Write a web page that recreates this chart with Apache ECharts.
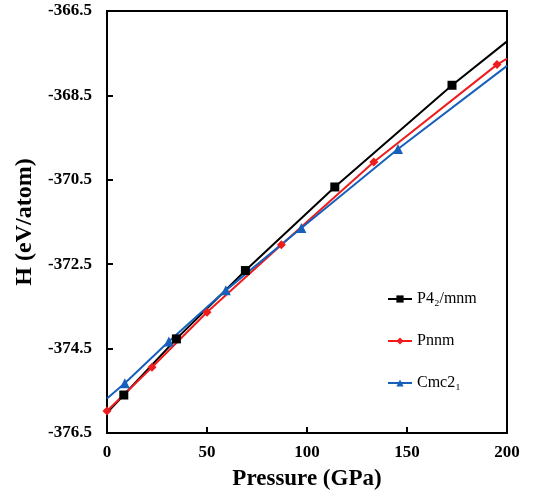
<!DOCTYPE html>
<html>
<head>
<meta charset="utf-8">
<script src="https://cdn.jsdelivr.net/npm/echarts@6/dist/echarts.min.js"></script>
<style>
  html, body { margin: 0; padding: 0; background: #fff; }
  #chart { width: 538px; height: 490px; }
</style>
</head>
<body>
<div id="chart"></div>
<script>
// values (GPa, eV/atom)
const p42Pressure = [0, 8.4, 34.7, 69.2, 113.9, 172.5, 200];
const p42Enthalpy = [-376.02, -375.60, -374.27, -372.65, -370.67, -368.26, -367.22];
const p42Marked = [false, true, true, true, true, true, false];

const pnnmPressure = [0, 22.5, 50, 87.2, 133.4, 195, 200];
const pnnmEnthalpy = [-375.98, -374.94, -373.64, -372.04, -370.08, -367.77, -367.63];
const pnnmMarked = [true, true, true, true, true, true, false];

const cmcPressure = [0, 8.9, 30.9, 59.4, 97.2, 145.5, 200];
const cmcEnthalpy = [-375.68, -375.32, -374.33, -373.12, -371.64, -369.77, -367.80];
const cmcMarked = [false, true, true, true, true, true, false];

const seriesNames = ['P4\u2082/mnm', 'Pnnm', 'Cmc2\u2081'];
const xTicks = { min: 0, max: 200, step: 50 };
const yTicks = { min: -376.5, max: -366.5, step: 2 };

function toData(xs, ys, marked) {
  return xs.map((x, i) => marked[i] ? [x, ys[i]] : { value: [x, ys[i]], symbol: 'none' });
}

const serif = 'Liberation Serif, Times New Roman, serif';

const chart = echarts.init(document.getElementById('chart'));

function lineSeries(name, data, color, symbol, size) {
  return {
    name: name,
    type: 'line',
    data: data,
    symbol: symbol,
    symbolSize: size,
    showAllSymbol: true,
    lineStyle: { color: color, width: 2 },
    itemStyle: { color: color },
    emphasis: { disabled: true },
    z: 3
  };
}

chart.setOption({
  animation: false,
  grid: {
    left: 107, right: 31, top: 11, bottom: 57,
    outerBoundsMode: 'none',
    show: true, borderColor: '#000', borderWidth: 2
  },
  legend: {
    orient: 'vertical',
    left: 382,
    top: 286,
    itemGap: 26,
    itemWidth: 24,
    itemHeight: 9,
    textStyle: { fontFamily: serif, fontSize: 16, color: '#000' },
    data: seriesNames
  },
  xAxis: {
    type: 'value',
    min: xTicks.min,
    max: xTicks.max,
    interval: xTicks.step,
    name: 'Pressure (GPa)',
    nameLocation: 'middle',
    nameGap: 35,
    nameTextStyle: { fontFamily: serif, fontWeight: 'bold', fontSize: 23, color: '#000' },
    axisLine: { lineStyle: { color: '#000', width: 2 } },
    axisTick: { inside: true, length: 6, lineStyle: { color: '#000', width: 2 } },
    axisLabel: { fontFamily: serif, fontWeight: 'bold', fontSize: 17, color: '#000', margin: 11 },
    splitLine: { show: false }
  },
  yAxis: {
    type: 'value',
    min: yTicks.min,
    max: yTicks.max,
    interval: yTicks.step,
    name: 'H (eV/atom)',
    nameLocation: 'middle',
    nameGap: 66,
    nameTextStyle: { fontFamily: serif, fontWeight: 'bold', fontSize: 24, color: '#000' },
    axisLine: { lineStyle: { color: '#000', width: 2 } },
    axisTick: { inside: true, length: 6, lineStyle: { color: '#000', width: 2 } },
    axisLabel: {
      fontFamily: serif, fontWeight: 'bold', fontSize: 17, color: '#000', margin: 15,
      formatter: v => v.toFixed(1)
    },
    splitLine: { show: false }
  },
  series: [
    lineSeries(seriesNames[0], toData(p42Pressure, p42Enthalpy, p42Marked), '#000000', 'rect', 9),
    lineSeries(seriesNames[1], toData(pnnmPressure, pnnmEnthalpy, pnnmMarked), '#ee1c1c', 'diamond', 9),
    lineSeries(seriesNames[2], toData(cmcPressure, cmcEnthalpy, cmcMarked), '#1660bb', 'triangle', 10)
  ]
});
</script>
</body>
</html>
